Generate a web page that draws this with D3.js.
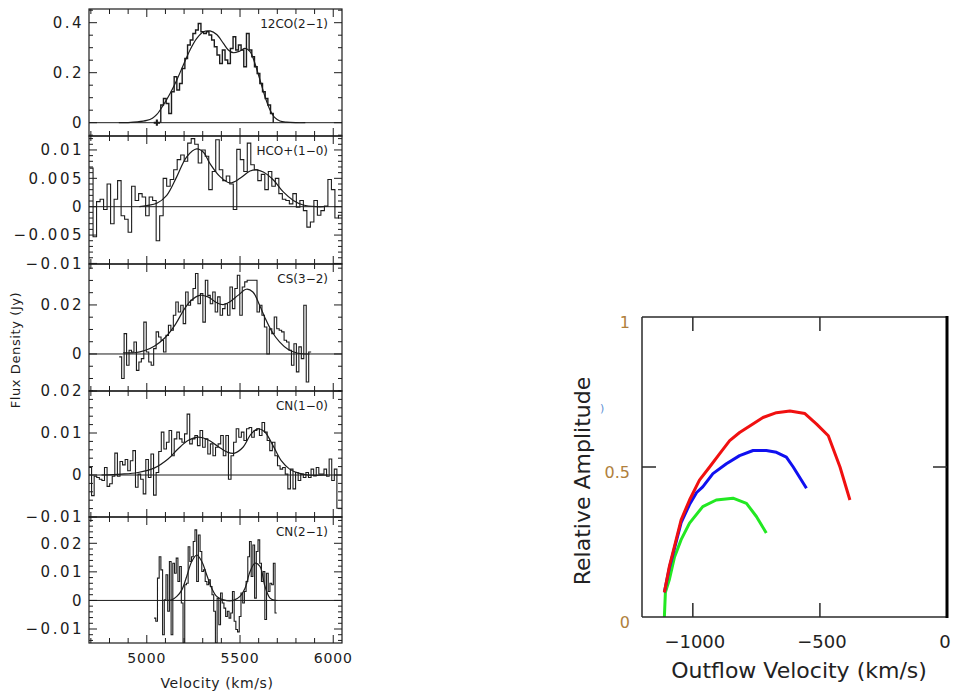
<!DOCTYPE html>
<html>
<head>
<meta charset="utf-8">
<script src="https://cdn.jsdelivr.net/npm/d3@7"></script>
<style>
  body { margin: 0; background: #fff; }
  svg { display: block; }
</style>
</head>
<body>
<svg id="chart" width="954" height="692"></svg>
<script>
// ---- left figure: spectra (velocity in km/s, flux in Jy) ----
const lineNames = ["12CO(2\u22121)", "HCO+(1\u22120)", "CS(3\u22122)", "CN(1\u22120)", "CN(2\u22121)"];
const fluxDomains = [[-0.0532, 0.4548], [-0.0101, 0.01246], [-0.0151, 0.0367], [-0.01, 0.02], [-0.0149, 0.0292]];
const yTickLabels = [[0, 0.2, 0.4], [-0.01, -0.005, 0, 0.005, 0.01], [0, 0.02], [-0.01, 0, 0.01, 0.02], [-0.01, 0, 0.01, 0.02]];
const yMinorStep = [0.05, 0.001, 0.005, 0.002, 0.002];
const velTicks = [5000, 5500, 6000];

// channel start velocity, channel width, flux per channel
const coStart = 5075, coWidth = 14.36;
const coFlux = [0.071, 0.097, 0.077, 0.037, 0.124, 0.184, 0.131, 0.157, 0.217, 0.257, 0.311, 0.331, 0.357, 0.371,
  0.397, 0.364, 0.357, 0.364, 0.351, 0.331, 0.304, 0.271, 0.237, 0.291, 0.251, 0.237, 0.297, 0.344, 0.291, 0.311,
  0.291, 0.224, 0.357, 0.291, 0.264, 0.224, 0.197, 0.157, 0.124, 0.097, 0.071, 0.037];
const coFit = [[4850, 0], [4900, 0.0005], [4950, 0.003], [5000, 0.009], [5030, 0.018], [5054, 0.033], [5089, 0.071],
  [5125, 0.117], [5161, 0.171], [5196, 0.231], [5232, 0.291], [5268, 0.337], [5304, 0.364], [5339, 0.367],
  [5375, 0.353], [5411, 0.317], [5437, 0.291], [5464, 0.28], [5500, 0.287], [5527, 0.297], [5554, 0.284],
  [5580, 0.237], [5607, 0.171], [5634, 0.104], [5661, 0.051], [5687, 0.02], [5714, 0.007], [5750, 0.002],
  [5800, 0], [5850, 0]];
const coMarker = [5054, 0];

const hcoStart = 4693, hcoWidth = 18.8;
const hcoFlux = [0.0068, -0.0053, 0.0009, 0.0013, -0.0005, 0.004, -0.003, 0.0013, 0.0046, -0.0016, -0.0022, -0.0045,
  0.0036, 0.0011, 0.0023, 0.0017, -0.0016, 0.0017, 0.0011, -0.006, -0.0016, 0.005, 0.0036, 0.0048, 0.0065, 0.0083,
  0.0091, 0.008, 0.0112, 0.012, 0.011, 0.0077, 0.01, 0.0089, 0.003, 0.0062, 0.0118, 0.0065, 0.0046, 0.0054, 0.004,
  -0.0005, 0.0101, 0.0083, 0.0062, 0.0112, 0.0074, 0.0065, 0.0046, 0.0057, 0.003, 0.0062, 0.0036, 0.005, 0.0023,
  0.0013, 0.0011, 0.0005, 0.0023, -0.0001, 0.0011, -0.0007, -0.0036, -0.0027, 0.0011, -0.0015, -0.0007, 0.0001,
  0.0048, 0.003, -0.002, -0.0015];
const hcoFit = [[4960, 0], [5000, 0.0002], [5054, 0.0006], [5107, 0.002], [5161, 0.0053], [5214, 0.0088],
  [5268, 0.0102], [5304, 0.0096], [5339, 0.0076], [5393, 0.0053], [5446, 0.0042], [5500, 0.005], [5554, 0.0063],
  [5589, 0.0065], [5625, 0.0061], [5679, 0.0047], [5732, 0.0026], [5786, 0.0011], [5839, 0.0003], [5911, 0],
  [5950, 0]];

const csStart = 4852, csWidth = 13.2;
const csFlux = [-0.0012, -0.01, 0.0083, -0.0046, 0.0015, 0.0008, 0.0049, -0.0067, -0.0033, -0.0019, 0.013, 0.0008,
  -0.0033, -0.0046, 0.0022, 0.009, 0.0069, 0.0056, 0.0008, 0.0076, 0.0117, 0.0097, 0.0158, 0.0212, 0.0171, 0.0199,
  0.0124, 0.0253, 0.0199, 0.0219, 0.0267, 0.0328, 0.0205, 0.0246, 0.013, 0.0301, 0.0239, 0.0205, 0.0253, 0.0171,
  0.0233, 0.0158, 0.0185, 0.0205, 0.0158, 0.0273, 0.0185, 0.0267, 0.0321, 0.0158, 0.0273, 0.0294, 0.0301, 0.0301,
  0.0301, 0.0301, 0.0171, 0.0199, 0.0158, 0.011, 0, 0.0103, 0.0083, 0.0151, 0.0103, 0.0097, 0.009, 0.0056, 0.0049,
  0.0015, -0.0046, 0.0042, -0.0073, 0.0029, -0.0019, 0.0199, -0.0114, 0.0008];
const csFit = [[4873, 0.0005], [4935, 0.0005], [4989, 0.0014], [5042, 0.0033], [5096, 0.0065], [5150, 0.0117],
  [5203, 0.0185], [5239, 0.0219], [5284, 0.0239], [5328, 0.0233], [5373, 0.021], [5409, 0.0201], [5444, 0.0212],
  [5489, 0.0239], [5534, 0.0264], [5569, 0.0253], [5605, 0.0199], [5632, 0.0151], [5667, 0.0097], [5712, 0.0049],
  [5757, 0.0019], [5810, 0.0003], [5873, 0]];

const cn10Start = 4690, cn10Width = 13.85;
const cn10Flux = [0.0018, -0.0049, -0.0003, -0.0006, -0.001, -0.0013, 0.0018, -0.0027, -0.0021, -0.0003, 0.0052,
  -0.0003, 0.0032, 0.0024, 0.0037, 0.001, 0.0034, 0.0058, -0.0029, 0.0002, -0.001, -0.0045, 0.0037, -0.0006, 0.005,
  -0.0048, 0.0006, 0.0056, 0.0102, 0.0062, 0.0078, 0.0106, 0.0046, 0.0086, 0.0102, 0.0086, 0.0078, 0.0098, 0.0145,
  0.0074, 0.0086, 0.0094, 0.007, 0.0106, 0.0066, 0.0086, 0.005, 0.0074, 0.0046, 0.0066, 0.0074, 0.0094, 0.0046,
  0.0094, -0.001, 0.0046, 0.0078, 0.011, 0.009, 0.0102, 0.0082, 0.011, 0.0113, 0.009, 0.0106, 0.011, 0.0094, 0.0125,
  0.0102, 0.0082, 0.0058, 0.0078, 0.0046, 0.0022, 0.0014, 0.0018, 0.0002, -0.0033, 0.0014, -0.0033, 0.0006, -0.0013,
  0.0002, -0.0006, 0.0006, -0.0006, 0.0014, -0.0002, 0.0018, 0.0002, 0.0002, 0.0014, -0.0003, 0.0038, -0.0013,
  0.0014, -0.0079, -0.0079];
const cn10Fit = [[4757, 0], [4864, 0.0002], [4953, 0.0006], [5042, 0.0017], [5114, 0.0038], [5167, 0.0062],
  [5221, 0.0082], [5275, 0.009], [5328, 0.0084], [5382, 0.0068], [5435, 0.0054], [5471, 0.0052], [5516, 0.0066],
  [5560, 0.0098], [5596, 0.011], [5632, 0.0103], [5677, 0.007], [5721, 0.0034], [5766, 0.0014], [5810, 0.0005],
  [5864, 0], [5971, 0]];

const cn21Start = 5039, cn21Width = 9.14;
const cn21Flux = [-0.0062, -0.0073, 0.0078, 0.0153, 0.0107, -0.012, 0.0002, 0.009, -0.0038, 0.0136, -0.012, 0.013,
  0.0095, 0.0148, 0.0066, 0.0119, -0.0009, -0.0149, 0.0055, 0.006, 0.0188, 0.0136, 0.0153, 0.0206, 0.0247, 0.0066,
  0.0229, 0.0171, 0.0101, 0.0107, 0.0066, 0.0055, 0.0072, 0.0049, 0.002, -0.0038, -0.0149, 0.0008, -0.0085, 0.0026,
  -0.0009, -0.0027, -0.0056, -0.0038, -0.0062, -0.0044, 0.0031, -0.0073, -0.0102, -0.011, -0.0056, 0.0026, -0.0009,
  0.0031, 0.0066, 0.0153, 0.0206, 0.0084, 0.0194, 0.0008, 0.0171, 0.0212, 0.013, 0.0066, 0.0101, -0.0067, 0.0095,
  0.0031, 0.006, 0.0055, 0.013, -0.0044];
const cn21Fit = [[5110, 0], [5134, 0.0002], [5161, 0.0014], [5188, 0.0037], [5214, 0.0084], [5241, 0.0136],
  [5268, 0.0159], [5295, 0.0136], [5321, 0.009], [5348, 0.0043], [5375, 0.0014], [5411, 0.0002], [5464, 0],
  [5500, 0.0014], [5527, 0.0043], [5554, 0.0101], [5580, 0.013], [5607, 0.0119], [5634, 0.0049], [5661, 0.0008],
  [5688, 0], [5700, 0]];

// ---- right figure: relative amplitude vs outflow velocity ----
const redCurve = [[-1112, 0.082], [-1092, 0.17], [-1072, 0.236], [-1046, 0.324], [-1013, 0.39], [-974, 0.456],
  [-934, 0.5], [-895, 0.544], [-855, 0.588], [-816, 0.615], [-776, 0.637], [-724, 0.665], [-671, 0.681],
  [-618, 0.687], [-559, 0.678], [-513, 0.643], [-467, 0.604], [-421, 0.5], [-382, 0.39]];
const blueCurve = [[-1112, 0.082], [-1092, 0.165], [-1072, 0.23], [-1046, 0.315], [-1013, 0.375], [-985, 0.415],
  [-961, 0.434], [-921, 0.478], [-868, 0.511], [-816, 0.538], [-763, 0.555], [-711, 0.555], [-671, 0.549],
  [-632, 0.533], [-605, 0.5], [-553, 0.429]];
const greenCurve = [[-1112, 0], [-1108, 0.082], [-1092, 0.126], [-1072, 0.2], [-1046, 0.258], [-1013, 0.313],
  [-961, 0.368], [-908, 0.39], [-842, 0.396], [-789, 0.379], [-750, 0.335], [-711, 0.28]];
const outflowTicks = [-1000, -500, 0];
const amplitudeTicks = [0, 0.5, 1];

const spectra = [
  { start: coStart, width: coWidth, flux: coFlux, fit: coFit, closed: true },
  { start: hcoStart, width: hcoWidth, flux: hcoFlux, fit: hcoFit },
  { start: csStart, width: csWidth, flux: csFlux, fit: csFit },
  { start: cn10Start, width: cn10Width, flux: cn10Flux, fit: cn10Fit },
  { start: cn21Start, width: cn21Width, flux: cn21Flux, fit: cn21Fit },
];

const svg = d3.select("#chart");
const ink = "#1c1c1c";
const leftFont = "'DejaVu Sans', sans-serif";

const x = d3.scaleLinear().domain([4690, 6047]).range([89, 342]);
const panelBox = [[9, 136], [136, 264], [264, 391], [391, 517], [517, 643]];
const [xl, xr0] = x.range();

spectra.forEach((s, i) => {
  const [top, bottom] = panelBox[i];
  const y = d3.scaleLinear().domain(fluxDomains[i]).range([bottom, top]);
  const g = svg.append("g");

  g.append("clipPath").attr("id", "clip" + i)
    .append("rect").attr("x", xl).attr("y", top).attr("width", xr0 - xl).attr("height", bottom - top);

  g.append("line")
    .attr("x1", xl).attr("x2", xr0).attr("y1", y(0)).attr("y2", y(0))
    .attr("stroke", ink).attr("stroke-width", 1);

  let pts = s.flux.map((f, k) => [s.start + k * s.width, f]);
  const vEnd = s.start + s.flux.length * s.width;
  pts.push([vEnd, s.flux[s.flux.length - 1]]);
  if (s.closed) pts = [[s.start, 0]].concat(pts, [[vEnd, 0]]);

  const step = d3.line().curve(d3.curveStepAfter).x((d) => x(d[0])).y((d) => y(d[1]));
  g.append("path")
    .datum(pts)
    .attr("clip-path", `url(#clip${i})`)
    .attr("fill", "none")
    .attr("stroke", ink)
    .attr("stroke-width", i === 0 ? 1.4 : 1.1)
    .attr("d", step);

  const smooth = d3.line().curve(d3.curveCatmullRom).x((d) => x(d[0])).y((d) => y(d[1]));
  g.append("path")
    .datum(s.fit)
    .attr("clip-path", `url(#clip${i})`)
    .attr("fill", "none")
    .attr("stroke", ink)
    .attr("stroke-width", 1.2)
    .attr("d", smooth);

  // frame
  g.append("rect")
    .attr("x", xl).attr("y", top).attr("width", xr0 - xl).attr("height", bottom - top)
    .attr("fill", "none").attr("stroke", ink).attr("stroke-width", 1.2);

  // velocity ticks on top and bottom, pointing in
  d3.range(4700, 6047, 100).forEach((v) => {
    const len = velTicks.includes(v) ? 8 : 5;
    g.append("line").attr("x1", x(v)).attr("x2", x(v)).attr("y1", top).attr("y2", top + len)
      .attr("stroke", ink);
    g.append("line").attr("x1", x(v)).attr("x2", x(v)).attr("y1", bottom).attr("y2", bottom - len)
      .attr("stroke", ink);
  });

  // flux ticks on both sides
  const [lo, hi] = fluxDomains[i];
  const st = yMinorStep[i];
  d3.range(Math.ceil(lo / st - 1e-6), Math.floor(hi / st + 1e-6) + 1).forEach((k) => {
    const val = k * st;
    const major = yTickLabels[i].some((t) => Math.abs(t - val) < st / 10);
    const len = major ? 8 : 4;
    g.append("line").attr("x1", xl).attr("x2", xl + len).attr("y1", y(val)).attr("y2", y(val))
      .attr("stroke", ink);
    g.append("line").attr("x1", xr0).attr("x2", xr0 - len).attr("y1", y(val)).attr("y2", y(val))
      .attr("stroke", ink);
  });

  yTickLabels[i].forEach((t) => {
    g.append("text")
      .attr("x", 84).attr("y", y(t)).attr("dy", "0.36em")
      .attr("text-anchor", "end")
      .style("font-family", leftFont).style("font-size", "15px").style("letter-spacing", "2.5px")
      .style("fill", ink)
      .text(d3.format("")(t));
  });

  g.append("text")
    .attr("x", 328).attr("y", top + 19)
    .attr("text-anchor", "end")
    .style("font-family", leftFont).style("font-size", "12px")
    .style("fill", ink)
    .text(lineNames[i]);
});

// CO marker
svg.append("path")
  .attr("transform", `translate(${x(coMarker[0])},${d3.scaleLinear().domain(fluxDomains[0]).range([136, 9])(coMarker[1])})`)
  .attr("d", d3.symbol(d3.symbolCross, 22))
  .attr("fill", ink);

velTicks.forEach((v) => {
  svg.append("text")
    .attr("x", x(v)).attr("y", 663)
    .attr("text-anchor", "middle")
    .style("font-family", leftFont).style("font-size", "14px").style("letter-spacing", "0.8px")
    .style("fill", ink)
    .text(v);
});

svg.append("text")
  .attr("x", 217).attr("y", 688)
  .attr("text-anchor", "middle")
  .style("font-family", leftFont).style("font-size", "14px").style("letter-spacing", "0.6px")
  .style("fill", ink)
  .text("Velocity (km/s)");

svg.append("text")
  .attr("transform", "translate(20,350) rotate(-90)")
  .attr("text-anchor", "middle")
  .style("font-family", leftFont).style("font-size", "13px").style("letter-spacing", "0.6px")
  .style("fill", ink)
  .text("Flux Density (Jy)");

// ---- right figure ----
const xo = d3.scaleLinear().domain([-1200, 0]).range([642, 947]);
const ya = d3.scaleLinear().domain([0, 1]).range([617, 317]);
const rg = svg.append("g");
const frame = "#2a2a2a";

const curve = d3.line().x((d) => xo(d[0])).y((d) => ya(d[1]));
[[greenCurve, "#22e822"], [blueCurve, "#1010f0"], [redCurve, "#f01010"]].forEach(([data, color]) => {
  rg.append("path")
    .datum(data)
    .attr("fill", "none")
    .attr("stroke", color)
    .attr("stroke-width", 3)
    .attr("stroke-linejoin", "round")
    .attr("d", curve);
});

rg.append("line").attr("x1", xo(-1200)).attr("x2", xo(-1200)).attr("y1", ya(1)).attr("y2", ya(0))
  .attr("stroke", frame).attr("stroke-width", 1.5);
rg.append("line").attr("x1", xo(-1200)).attr("x2", xo(0) + 1).attr("y1", ya(0)).attr("y2", ya(0))
  .attr("stroke", frame).attr("stroke-width", 1.5);
rg.append("line").attr("x1", xo(-1200)).attr("x2", xo(0) + 1).attr("y1", ya(1)).attr("y2", ya(1))
  .attr("stroke", frame).attr("stroke-width", 1.5);
rg.append("line").attr("x1", xo(0)).attr("x2", xo(0)).attr("y1", ya(1) - 1).attr("y2", ya(0) + 1)
  .attr("stroke", "#000").attr("stroke-width", 3);

outflowTicks.filter((v) => v < 0).forEach((v) => {
  rg.append("line").attr("x1", xo(v)).attr("x2", xo(v)).attr("y1", ya(0)).attr("y2", ya(0) - 14)
    .attr("stroke", frame).attr("stroke-width", 1.5);
  rg.append("line").attr("x1", xo(v)).attr("x2", xo(v)).attr("y1", ya(1)).attr("y2", ya(1) + 14)
    .attr("stroke", frame).attr("stroke-width", 1.5);
});
amplitudeTicks.filter((t) => t > 0 && t < 1).forEach((t) => {
  rg.append("line").attr("x1", xo(-1200)).attr("x2", xo(-1200) + 14).attr("y1", ya(t)).attr("y2", ya(t))
    .attr("stroke", frame).attr("stroke-width", 1.5);
  rg.append("line").attr("x1", xo(0)).attr("x2", xo(0) - 14).attr("y1", ya(t)).attr("y2", ya(t))
    .attr("stroke", frame).attr("stroke-width", 1.5);
});

outflowTicks.forEach((v) => {
  rg.append("text")
    .attr("x", Math.min(xo(v) + 2, 945)).attr("y", 648)
    .attr("text-anchor", "middle")
    .style("font-family", leftFont).style("font-size", "18px")
    .style("fill", "#222")
    .text(d3.format("")(v));
});
amplitudeTicks.forEach((t) => {
  rg.append("text")
    .attr("x", 630).attr("y", ya(t) + 11)
    .attr("text-anchor", "end")
    .style("font-family", leftFont).style("font-size", "16px")
    .style("fill", "#b07f3c")
    .text(d3.format("")(t));
});

rg.append("text")
  .attr("x", 600).attr("y", 412)
  .style("font-family", leftFont).style("font-size", "11px")
  .style("fill", "#5d8fd4")
  .text(")");

rg.append("text")
  .attr("transform", "translate(590,481) rotate(-90)")
  .attr("text-anchor", "middle")
  .style("font-family", leftFont).style("font-size", "22px")
  .style("fill", "#222")
  .text("Relative Amplitude");

rg.append("text")
  .attr("x", 799).attr("y", 678)
  .attr("text-anchor", "middle")
  .style("font-family", leftFont).style("font-size", "22px")
  .style("fill", "#222")
  .text("Outflow Velocity (km/s)");
</script>
</body>
</html>
